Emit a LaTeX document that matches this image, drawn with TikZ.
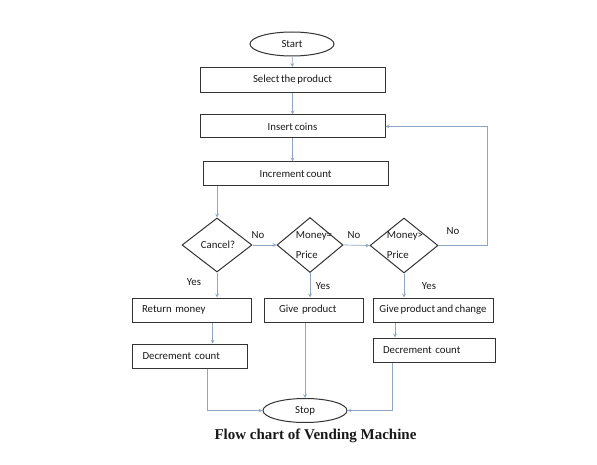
\documentclass[tikz,border=0pt]{standalone}
\usepackage{fontspec}
\setmainfont{Carlito}[WordSpace=0.7]
\newfontfamily\captionfont{Liberation Serif}
\usepackage{tikz}
\usetikzlibrary{shapes.geometric}
\usetikzlibrary{arrows}
\definecolor{boxline}{HTML}{333333}
\definecolor{flowline}{HTML}{8EA6C4}
\tikzstyle{terminal}=[ellipse,draw=boxline,line width=1pt,inner sep=0mm,minimum width=84pt,minimum height=24pt,font=\fontsize{10.8}{12}\selectfont]
\tikzstyle{process}=[rectangle,draw=boxline,line width=1pt,inner sep=0mm,minimum height=24pt,font=\fontsize{10.8}{12}\selectfont]
\tikzstyle{lprocess}=[process,align=left,inner xsep=10pt]
\tikzstyle{decision}=[diamond,draw=boxline,line width=1pt,inner sep=0mm,minimum width=68pt,minimum height=55pt]
\tikzstyle{dtext}=[align=left,inner sep=0mm,font=\fontsize{10.8}{20}\selectfont]
\tikzstyle{answer}=[inner sep=0mm,font=\fontsize{10.8}{12}\selectfont]
\tikzstyle{arrow}=[->,>=stealth,draw=flowline,line width=0.7pt]
\tikzset{every picture/.style={
    text=black!90
  }
}
\begin{document}
\begin{tikzpicture}[x=1pt,y=-1pt]
  \useasboundingbox (0,0) rectangle (597,465);
  % top of the chart
  \node[terminal] at (292,44) (start) {Start};
  \node[process,minimum width=185pt,minimum height=25pt] at (292.5,80) (select) {Select the product};
  \node[process,minimum width=185pt,minimum height=23pt] at (292.5,126.5) (insert) {Insert coins};
  \node[process,minimum width=185pt] at (295.5,174) (increment) {Increment count};
  \draw[arrow] (start) -- (select);
  \draw[arrow] (select) -- (insert);
  \draw[arrow] (insert.south) -- (insert.south |- increment.north);
  % the three checks
  \node[decision,minimum width=70pt,minimum height=54pt] at (217,245) (cancel) {};
  \node[dtext] at (218,245) (canceltext) {Cancel?};
  \node[decision,minimum width=66pt] at (310,245) (moneyeq) {};
  \node[dtext] at (314,245) (moneyeqtext) {Money=\\Price};
  \node[decision] at (404,245.5) (moneygt) {};
  \node[dtext] at (405,245) (moneygttext) {Money>\\Price};
  \coordinate (loop) at (487,245.5);
  \draw[arrow] (cancel.north |- increment.south) -- (cancel.north);
  \draw[arrow] (cancel.east) -- (moneyeq.west);
  \draw[arrow] (moneyeq.east) -- (moneygt.west);
  \draw[arrow] (moneygt.east) -- (loop) |- (insert.east);
  \node[answer] at (258,235) (no1) {No};
  \node[answer] at (354,235) (no2) {No};
  \node[answer] at (453,231) (no3) {No};
  \node[answer] at (194,282) (yes1) {Yes};
  \node[answer] at (323,286) (yes2) {Yes};
  \node[answer] at (429,286) (yes3) {Yes};
  % results
  \node[lprocess,minimum width=119pt,text width=99pt] at (191.5,310) (retmoney) {Return money};
  \node[lprocess,minimum width=99pt,text width=69pt,inner xsep=15pt] at (313.5,310) (giveprod) {Give product};
  \node[process,minimum width=120pt] at (433,310) (givechange) {Give product and change};
  \node[lprocess,minimum width=115pt,text width=94pt,inner xsep=10.5pt] at (189.5,356) (decleft) {Decrement count};
  \node[lprocess,minimum width=122pt,text width=102pt] at (434,350) (decright) {Decrement count};
  \draw[arrow] (cancel.south) -- (cancel.south |- retmoney.north);
  \draw[arrow] (moneyeq.south) -- (moneyeq.south |- giveprod.north);
  \draw[arrow] (moneygt.south) -- (moneygt.south |- givechange.north);
  \draw[arrow] ([xshift=21pt]retmoney.south) -- ([xshift=21pt]retmoney.south |- decleft.north);
  \draw[arrow] ([xshift=-38pt]givechange.south) -- ([xshift=-38pt]givechange.south |- decright.north);
  % end
  \node[terminal] at (305,410.5) (stop) {Stop};
  \draw[arrow] ([xshift=17.5pt]decleft.south) |- (stop.west);
  \draw[arrow] (stop.north |- giveprod.south) -- (stop.north);
  \draw[arrow] ([xshift=-42pt]decright.south) |- (stop.east);
  \node[font=\captionfont\bfseries\fontsize{15}{18}\selectfont] at (315.5,436) (caption) {Flow chart of Vending Machine};
\end{tikzpicture}
\end{document}
